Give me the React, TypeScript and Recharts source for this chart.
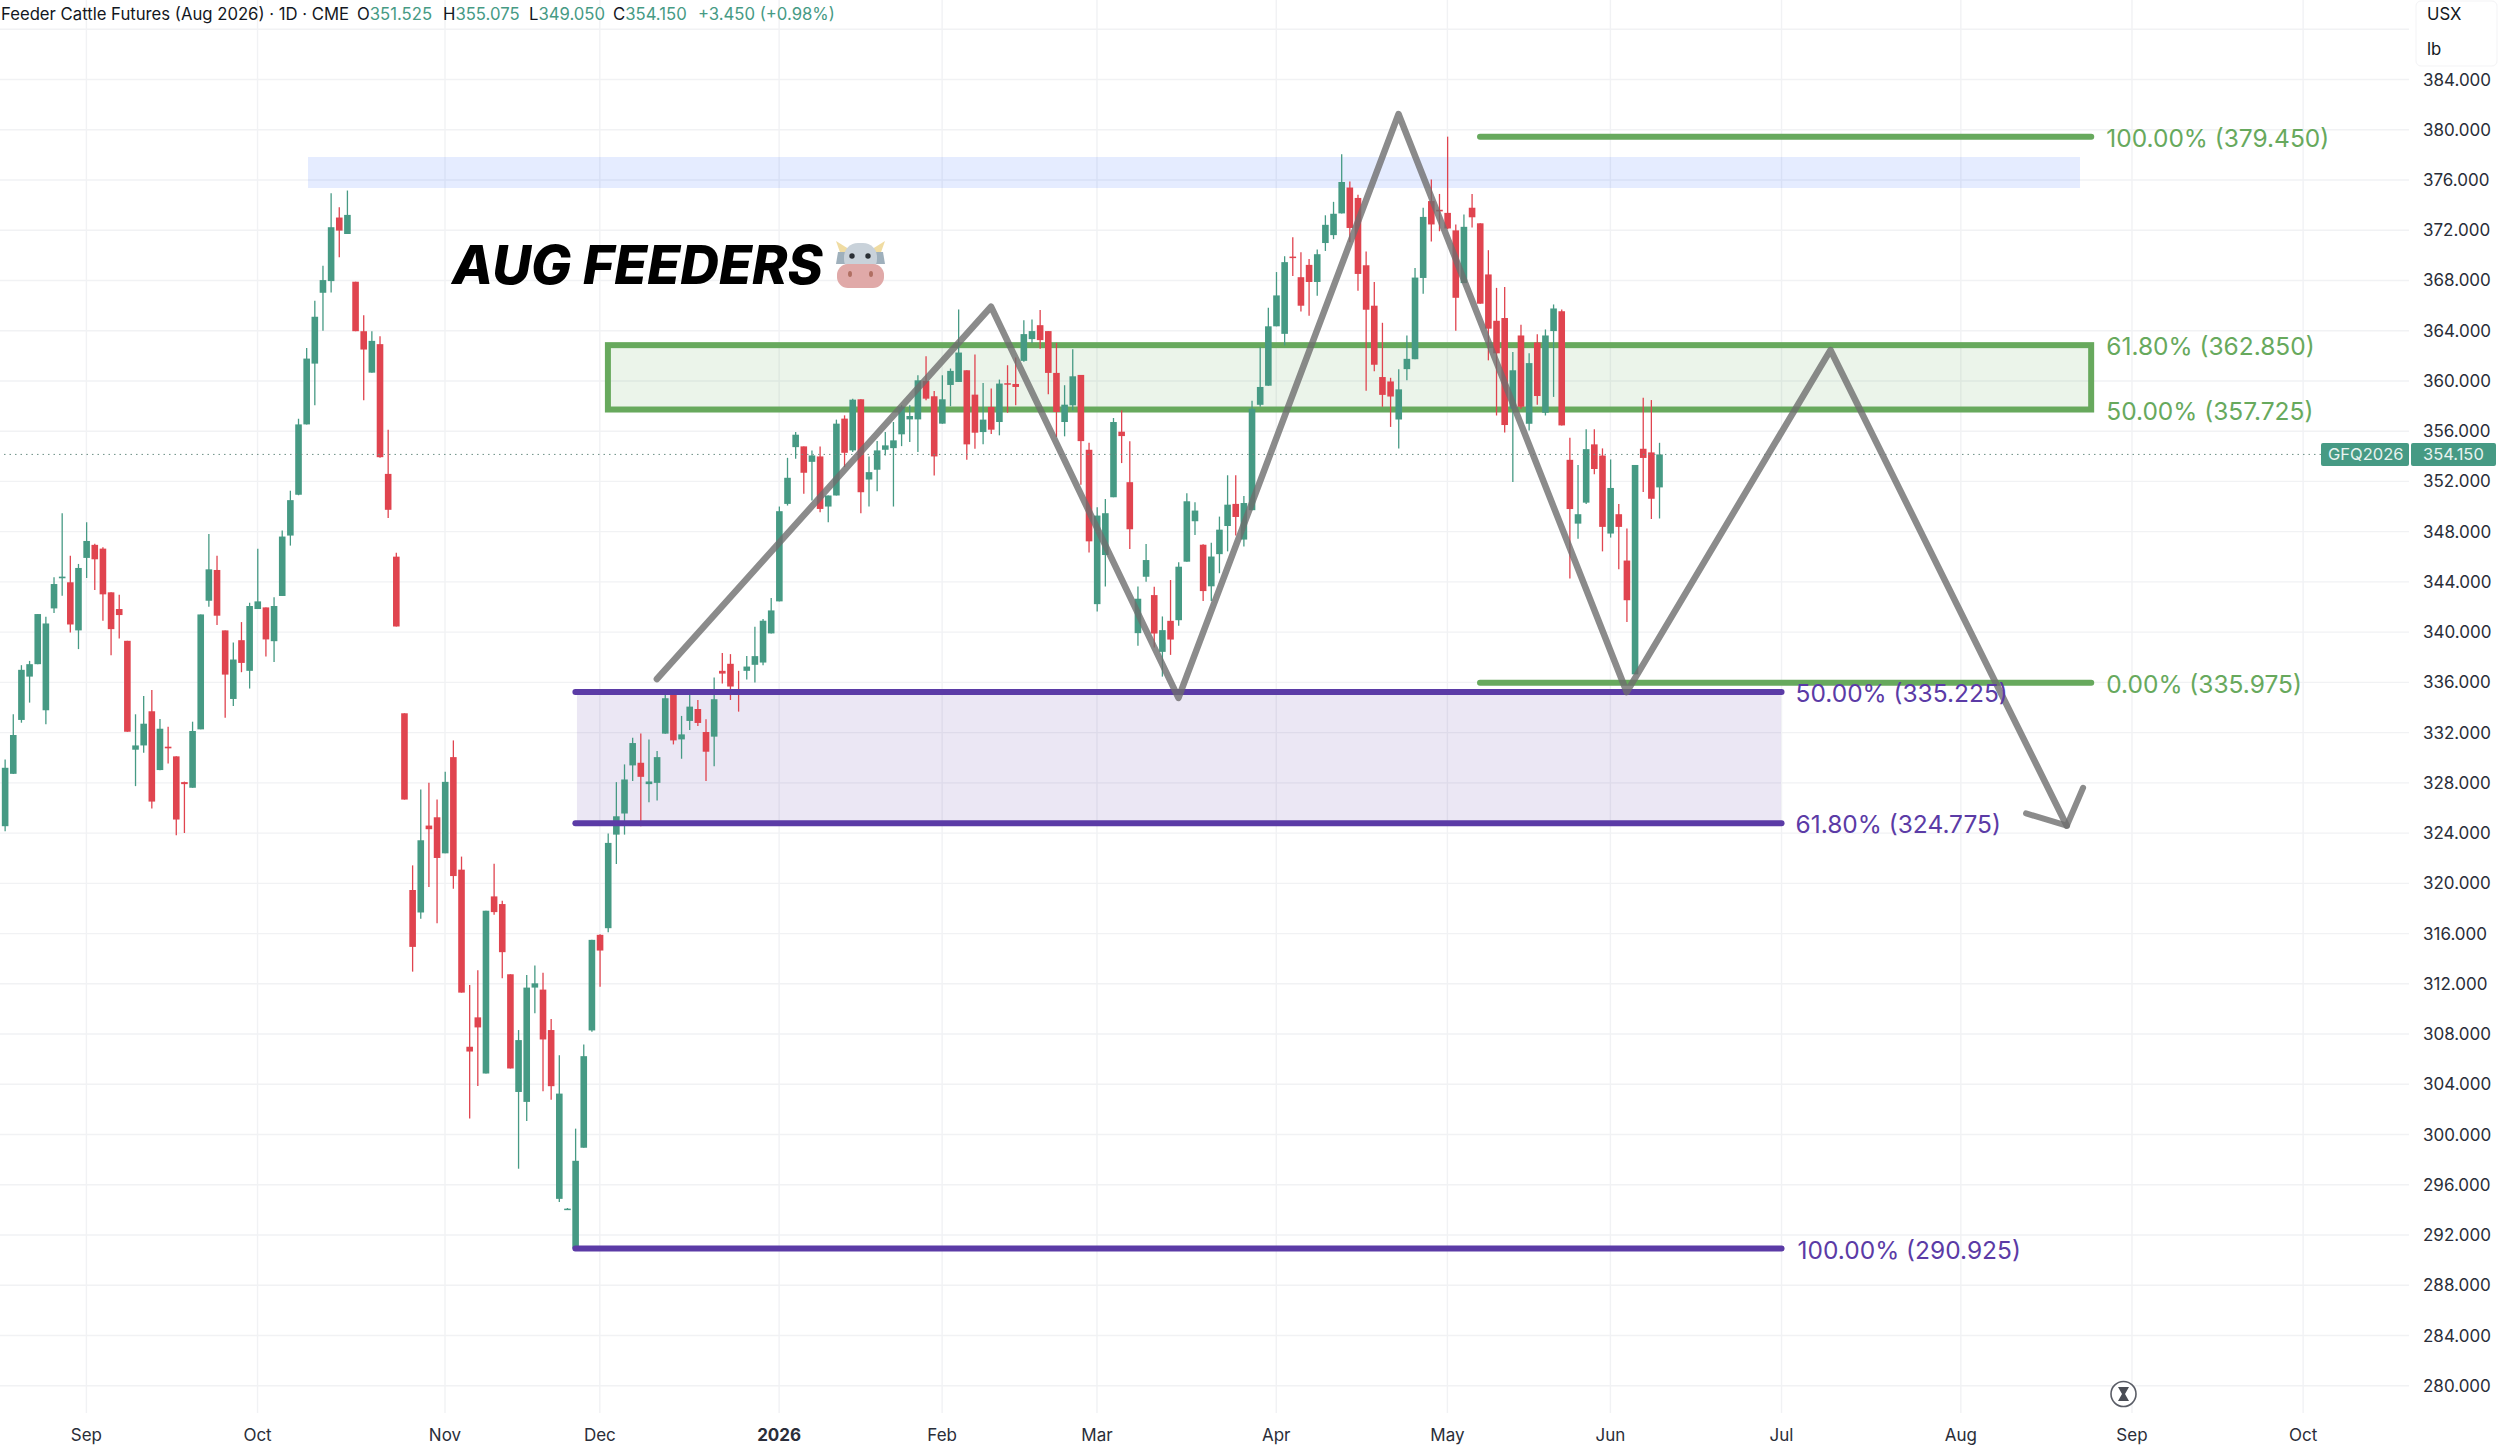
import {
  ComposedChart,
  Bar,
  Line,
  XAxis,
  YAxis,
  CartesianGrid,
  ReferenceArea,
  ReferenceLine,
  ReferenceDot,
} from 'recharts';

const FONT = 'Inter, "Noto Sans", sans-serif';

const UP = '#469a84';
const DOWN = '#e0444f';
const FIB_GREEN = '#67a95d';
const FIB_PURPLE = '#5b3ba6';
const WAVE = '#6e6e6e';

const SLOT_COUNT = 295;

const opens = [
  324.55, 328.72, 333.01, 336.46, 337.45, 333.78, 341.89, 344.29, 343.97, 340.14,
  345.91, 346.95, 346.65, 343.17, 341.84, 339.31, 330.64, 330.98, 333.7, 329.02,
  330.88, 330.11, 328.06, 327.61, 332.26, 342.5, 344.95, 340.14, 334.68, 339.36,
  336.92, 341.84, 341.97, 339.28, 342.88, 347.69, 350.94, 356.54, 361.38, 367.02,
  367.95, 373.01, 371.7, 367.9, 363.96, 360.66, 362.93, 352.6, 346.01, 333.54,
  319.47, 317.68, 324.6, 325.26, 322.39, 330.05, 321.09, 306.99, 309.33, 304.86,
  318.96, 318.35, 312.76, 303.39, 302.6, 311.7, 311.54, 308.32, 294.88, 294.0,
  290.93, 298.95, 308.29, 315.9, 316.43, 323.88, 325.56, 329.39, 329.6, 327.9,
  328.0, 331.92, 335.05, 331.46, 332.93, 333.88, 332.05, 331.68, 336.92, 337.48,
  335.4, 336.92, 337.4, 337.58, 339.9, 342.45, 350.21, 354.73, 354.79, 353.56,
  353.99, 350.0, 350.88, 357.0, 354.47, 358.54, 352.15, 352.93, 354.52, 354.65,
  355.75, 356.94, 356.94, 360.0, 358.78, 356.6, 359.68, 359.92, 360.85, 358.91,
  355.93, 357.93, 356.73, 359.82, 359.76, 361.6, 363.33, 364.44, 363.97, 360.64,
  356.73, 358.06, 360.48, 354.52, 342.23, 346.14, 350.74, 355.96, 351.94, 339.92,
  344.41, 342.95, 338.43, 340.9, 340.95, 345.61, 348.83, 346.96, 343.65, 346.21,
  348.45, 350.21, 347.37, 349.71, 358.1, 359.62, 364.35, 363.75, 369.9, 368.26,
  369.24, 367.88, 370.98, 371.61, 373.34, 375.4, 374.57, 369.21, 365.99, 360.31,
  359.96, 356.93, 360.94, 361.73, 368.2, 374.32, 373.63, 373.38, 371.99, 367.79,
  373.79, 372.55, 368.48, 364.79, 365.01, 357.79, 363.62, 356.59, 363.06, 357.47,
  363.97, 365.55, 353.72, 348.64, 350.31, 354.95, 354.06, 347.85, 349.39, 345.7,
  336.64, 354.6, 354.31, 351.525,
];

const highs = [
  329.87, 333.46, 337.37, 337.71, 341.44, 341.23, 344.37, 349.47, 346.09, 345.43,
  348.75, 347.03, 346.76, 343.17, 342.98, 339.31, 333.46, 334.92, 335.4, 333.09,
  332.47, 330.11, 328.1, 332.87, 341.41, 347.82, 346.09, 340.14, 339.18, 340.8,
  342.34, 346.63, 341.97, 342.77, 348.09, 351.26, 356.99, 362.63, 366.38, 369.18,
  374.95, 373.83, 375.16, 367.9, 365.24, 363.96, 363.56, 356.12, 346.33, 333.54,
  321.43, 327.47, 328.0, 326.67, 328.88, 331.38, 322.13, 311.91, 313.08, 317.82,
  321.57, 318.61, 312.76, 308.32, 312.71, 313.45, 312.89, 309.19, 306.32, 294.15,
  300.47, 307.17, 315.5, 315.95, 323.96, 328.06, 329.47, 331.6, 331.94, 331.46,
  330.53, 335.37, 335.37, 333.33, 335.19, 334.6, 333.06, 336.38, 338.33, 338.25,
  336.92, 338.11, 340.43, 341.04, 342.72, 350.0, 353.88, 355.93, 354.79, 354.47,
  354.79, 350.88, 356.92, 357.26, 358.59, 358.54, 353.99, 355.21, 355.93, 356.73,
  358.06, 358.06, 360.45, 361.97, 359.2, 360.45, 360.99, 365.69, 360.85, 362.1,
  359.84, 359.39, 360.11, 361.25, 361.86, 364.84, 364.9, 365.64, 363.97, 363.03,
  359.66, 362.53, 360.48, 355.08, 349.95, 350.61, 357.05, 357.66, 355.19, 343.64,
  347.02, 343.61, 341.25, 344.15, 345.56, 351.06, 350.34, 347.0, 347.12, 349.2,
  352.49, 352.49, 350.84, 358.42, 362.68, 365.83, 368.67, 369.93, 371.45, 370.25,
  369.71, 370.47, 373.19, 374.26, 378.05, 375.87, 374.83, 370.31, 367.88, 364.63,
  360.25, 360.94, 363.62, 368.99, 373.79, 376.03, 374.89, 379.45, 372.46, 373.25,
  374.89, 372.55, 370.41, 367.41, 367.47, 362.3, 364.48, 362.2, 363.72, 364.1,
  366.09, 365.68, 355.48, 353.31, 356.15, 356.15, 354.63, 353.75, 350.21, 348.25,
  353.31, 358.67, 358.48, 355.075,
];

const lows = [
  324.15, 328.7, 332.79, 334.39, 337.45, 332.66, 341.52, 342.9, 339.98, 338.65,
  344.31, 343.35, 340.91, 338.17, 339.5, 332.07, 327.74, 330.4, 325.96, 329.0,
  329.55, 323.83, 324.01, 327.61, 332.26, 342.02, 340.56, 333.19, 334.12, 336.81,
  335.51, 341.84, 338.06, 337.63, 342.88, 346.89, 350.9, 356.54, 358.06, 363.99,
  367.05, 369.84, 371.7, 363.96, 358.46, 360.66, 353.88, 349.08, 340.45, 326.67,
  312.97, 317.18, 319.7, 316.83, 322.39, 319.57, 311.3, 301.27, 303.87, 304.86,
  317.5, 312.44, 305.26, 297.28, 301.08, 309.65, 303.45, 302.78, 294.62, 294.0,
  290.93, 298.95, 308.18, 311.77, 316.11, 321.54, 323.88, 328.14, 324.55, 326.46,
  326.59, 331.92, 331.06, 329.92, 332.21, 332.53, 328.14, 329.33, 335.91, 334.6,
  333.67, 336.22, 335.99, 337.37, 339.9, 342.45, 350.08, 353.8, 351.01, 350.48,
  349.55, 348.75, 350.88, 353.14, 354.34, 349.47, 350.0, 351.22, 354.07, 350.0,
  354.81, 355.13, 354.34, 358.46, 352.47, 356.6, 357.98, 359.92, 353.72, 354.6,
  354.95, 355.77, 355.67, 357.47, 358.06, 361.52, 363.03, 362.56, 358.94, 355.53,
  355.59, 357.66, 351.73, 346.35, 341.65, 343.64, 350.74, 353.46, 346.62, 338.91,
  344.01, 338.77, 336.46, 338.19, 340.5, 345.61, 347.74, 342.48, 342.48, 344.69,
  346.43, 347.69, 346.81, 349.71, 357.94, 359.62, 364.35, 362.83, 368.36, 365.52,
  365.2, 366.78, 370.35, 371.29, 373.34, 371.04, 367.19, 359.21, 360.78, 357.94,
  356.34, 354.63, 360.06, 361.73, 366.94, 371.1, 371.92, 372.08, 364.0, 367.79,
  372.21, 366.15, 361.64, 357.25, 355.89, 351.95, 357.79, 356.05, 358.1, 357.25,
  358.73, 356.46, 344.28, 347.44, 350.21, 352.58, 346.43, 347.53, 345.01, 340.81,
  336.64, 351.16, 349.01, 349.05,
];

const closes = [
  329.2, 331.81, 337.0, 337.45, 341.44, 340.69, 343.83, 344.42, 340.61, 345.11,
  347.26, 345.8, 343.01, 340.24, 341.36, 332.07, 330.98, 332.71, 326.51, 332.31,
  330.75, 325.08, 327.9, 332.13, 341.41, 345.0, 341.31, 336.62, 337.82, 337.55,
  342.08, 342.45, 339.42, 342.08, 347.61, 350.51, 356.54, 361.78, 365.11, 368.03,
  372.24, 371.97, 373.22, 363.96, 362.5, 363.19, 353.93, 349.74, 340.45, 326.67,
  314.94, 323.43, 324.31, 322.02, 328.08, 320.58, 311.3, 306.61, 308.53, 317.82,
  317.71, 314.52, 305.26, 307.52, 311.7, 312.04, 307.57, 303.85, 303.26, 294.1,
  297.91, 306.24, 315.5, 314.65, 323.22, 325.34, 328.27, 331.17, 328.48, 328.11,
  330.05, 334.74, 331.38, 331.86, 334.07, 332.77, 330.48, 334.66, 336.7, 335.67,
  335.13, 337.26, 338.09, 340.91, 341.73, 349.63, 352.29, 355.72, 352.69, 354.07,
  349.81, 350.88, 356.6, 354.28, 358.51, 351.14, 352.74, 354.47, 354.87, 355.27,
  357.93, 357.21, 360.05, 358.59, 353.99, 358.54, 360.8, 362.26, 354.95, 355.88,
  356.92, 356.12, 359.79, 359.71, 359.52, 363.73, 363.97, 363.25, 360.64, 357.53,
  358.11, 360.37, 355.21, 347.23, 349.28, 349.47, 356.73, 355.61, 348.19, 342.66,
  345.74, 339.89, 340.16, 339.41, 345.21, 350.42, 349.68, 343.27, 346.02, 348.16,
  350.15, 349.17, 350.28, 357.79, 359.52, 364.35, 366.81, 369.46, 369.78, 365.99,
  367.88, 370.09, 372.43, 373.31, 375.84, 372.18, 368.52, 365.67, 361.29, 358.89,
  358.76, 359.33, 361.76, 368.23, 373.06, 372.46, 373.5, 372.14, 366.62, 372.27,
  373.03, 366.15, 364.16, 362.2, 356.49, 360.85, 357.94, 361.42, 358.8, 363.62,
  365.77, 356.46, 349.8, 349.39, 354.57, 352.99, 348.38, 351.48, 348.38, 342.54,
  353.31, 353.87, 350.62, 354.15,
];

// month labels sit on the first trading day of each month
const monthSlots = [10, 31, 54, 73, 95, 115, 134, 156, 177, 197, 218, 240, 261, 282];
const monthLabels = ['Sep', 'Oct', 'Nov', 'Dec', '2026', 'Feb', 'Mar', 'Apr', 'May', 'Jun', 'Jul', 'Aug', 'Sep', 'Oct'];

const priceTicks = [
  280, 284, 288, 292, 296, 300, 304, 308, 312, 316, 320, 324, 328, 332, 336, 340, 344, 348,
  352, 356, 360, 364, 368, 372, 376, 380, 384, 388,
];

const waveSlots = [80, 121, 144, 171, 199, 224, 253];
const waveValues = [336.27, 365.91, 334.76, 381.25, 335.23, 362.46, 324.59];

const arrowSlots = [248, 253, 255];
const arrowValues = [325.57, 324.59, 327.61];

const LAST_PRICE = 354.15;

const rows = Array.from({ length: SLOT_COUNT }, (_, slot) => {
  const waveIdx = waveSlots.indexOf(slot);
  const arrowIdx = arrowSlots.indexOf(slot);
  const hasBar = slot < opens.length;
  return {
    slot,
    open: hasBar ? opens[slot] : null,
    close: hasBar ? closes[slot] : null,
    high: hasBar ? highs[slot] : null,
    low: hasBar ? lows[slot] : null,
    range: hasBar ? [lows[slot], highs[slot]] : null,
    wave: waveIdx >= 0 ? waveValues[waveIdx] : null,
    arrow: arrowIdx >= 0 ? arrowValues[arrowIdx] : null,
  };
});

function Candle(props: any) {
  const { x, y, width, height, payload } = props;
  if (payload.open == null) return null;
  const { open, close, high, low } = payload;
  const color = close >= open ? UP : DOWN;
  const perUnit = Math.abs(height) / (high - low);
  const bodyTop = y + (high - Math.max(open, close)) * perUnit;
  const bodyHeight = Math.max(Math.abs(open - close) * perUnit, 1.5);
  const cx = x + width / 2;
  return (
    <g>
      <line x1={cx} x2={cx} y1={y} y2={y + Math.abs(height)} stroke={color} strokeWidth={1.3} />
      <rect x={x} y={bodyTop} width={width} height={bodyHeight} fill={color} />
    </g>
  );
}

// zones were drawn by hand, so their edges fall between bars
function shiftedArea(dx: number, dw: number) {
  return ({ x, y, width, height, fill, fillOpacity, stroke, strokeWidth }: any) => (
    <rect
      x={x + dx}
      y={y}
      width={width + dw}
      height={height}
      fill={fill}
      fillOpacity={fillOpacity}
      stroke={stroke}
      strokeWidth={strokeWidth}
    />
  );
}

function PriceTick({ x, y, payload }: any) {
  if (payload.value === 388) return null;
  return (
    <text x={x + 6} y={y} dy={6} fontSize={17} fill="#2a2e39" fontFamily={FONT}>
      {payload.value.toFixed(3)}
    </text>
  );
}

function MonthTick({ x, y, payload }: any) {
  const label = monthLabels[monthSlots.indexOf(payload.value)];
  return (
    <text
      x={x}
      y={y}
      dy={20}
      textAnchor="middle"
      fontSize={17}
      fontWeight={label === '2026' ? 700 : 400}
      fill="#2a2e39"
      fontFamily={FONT}
    >
      {label}
    </text>
  );
}

function fibLabel(text: string, color: string, dx: number) {
  return ({ viewBox }: any) => (
    <text x={viewBox.x + dx} y={viewBox.y} dy={10} fontSize={24.5} fill={color} fontFamily={FONT}>
      {text}
    </text>
  );
}

function LastPriceTag({ viewBox }: any) {
  const right = viewBox.x + viewBox.width;
  const cy = viewBox.y;
  return (
    <g fontFamily={FONT} fontSize={16.5} fill="#e9f3f0">
      <rect x={right - 88} y={cy - 11.5} width={88} height={23} rx={2} fill={UP} />
      <rect x={right + 2} y={cy - 11.5} width={85} height={23} rx={2} fill={UP} />
      <text x={right - 81} y={cy} dy={6}>GFQ2026</text>
      <text x={right + 14} y={cy} dy={6}>354.150</text>
    </g>
  );
}

function HeaderStat({ x, label, value }: { x: number; label: string; value: string }) {
  return (
    <div style={{ position: 'absolute', left: x, top: 4, whiteSpace: 'nowrap' }}>
      <span style={{ color: '#131722' }}>{label}</span>
      <span style={{ color: UP }}>{value}</span>
    </div>
  );
}

function Overlay() {
  return (
    <svg width={2500} height={1446} style={{ position: 'absolute', left: 0, top: 0, pointerEvents: 'none' }}>
      {/* cow emoji */}
      <path d="M842 258 L836 241 L852 251 Z" fill="#f0dca2" />
      <path d="M879 258 L885 241 L869 251 Z" fill="#f0dca2" />
      <path d="M838 252 L847 252 L847 264 L836 264 Z" fill="#9fb0bc" />
      <path d="M883 252 L874 252 L874 264 L885 264 Z" fill="#9fb0bc" />
      <rect x={844} y={243} width={33} height={30} rx={14} fill="#c9d2da" />
      <circle cx={852} cy={256} r={2.7} fill="#2a2f35" />
      <circle cx={868} cy={256} r={2.7} fill="#2a2f35" />
      <rect x={837} y={264} width={47} height={24} rx={11} fill="#e0a9a8" />
      <ellipse cx={850} cy={274} rx={2} ry={3} fill="#b06f62" />
      <ellipse cx={871} cy={274} rx={2} ry={3} fill="#b06f62" />
      {/* replay hourglass */}
      <circle cx={2123.5} cy={1394} r={12.5} fill="#fff" stroke="#5a5d66" strokeWidth={1.6} />
      <path d="M2118 1387 H2129 L2125 1394 L2129 1401 H2118 L2122 1394 Z" fill="#4a4d55" />
      {/* currency badge */}
      <rect x={2416} y={1} width={81} height={65} rx={5} fill="#fff" stroke="#f3f3f5" />
    </svg>
  );
}

export default function App() {
  return (
    <div style={{ position: 'absolute', left: 0, top: 0, width: 2500, height: 1446, background: '#fff', overflow: 'hidden' }}>
      <ComposedChart
        width={2500}
        height={1446}
        data={rows}
        margin={{ top: 0, right: 0, bottom: 0, left: 0 }}
        barCategoryGap={0}
      >
        <CartesianGrid stroke="#f1f2f4" strokeWidth={1.4} syncWithTicks />
        <XAxis
          dataKey="slot"
          ticks={monthSlots}
          interval={0}
          height={33}
          padding={{ left: 0.83, right: 4 }}
          axisLine={false}
          tickLine={false}
          tick={<MonthTick />}
        />
        <YAxis
          orientation="right"
          width={91}
          domain={[277.83, 390.33]}
          ticks={priceTicks}
          interval={0}
          allowDataOverflow
          axisLine={false}
          tickLine={false}
          tick={<PriceTick />}
        />

        <ReferenceArea
          x1={38}
          x2={254}
          y1={377.83}
          y2={375.36}
          fill="#2962ff"
          fillOpacity={0.12}
          stroke="none"
          shape={shiftedArea(-2.5, 3.5)}
        />
        <ReferenceArea
          x1={71}
          x2={217}
          y1={335.225}
          y2={324.775}
          fill={FIB_PURPLE}
          fillOpacity={0.12}
          stroke="none"
          shape={shiftedArea(-2.5, 6)}
        />
        <ReferenceArea
          x1={74}
          x2={255}
          y1={362.85}
          y2={357.725}
          fill={FIB_GREEN}
          fillOpacity={0.13}
          stroke={FIB_GREEN}
          strokeWidth={6}
          shape={shiftedArea(4, 0)}
        />

        <ReferenceLine
          y={LAST_PRICE}
          stroke="#6c8f85"
          strokeWidth={1}
          strokeDasharray="1.5 4"
          label={<LastPriceTag />}
        />

        <Bar dataKey="range" barSize={6.6} shape={<Candle />} isAnimationActive={false} />

        <ReferenceLine segment={[{ x: 181, y: 379.45 }, { x: 256, y: 379.45 }]} stroke={FIB_GREEN} strokeWidth={6} strokeLinecap="round" />
        <ReferenceLine segment={[{ x: 181, y: 335.975 }, { x: 256, y: 335.975 }]} stroke={FIB_GREEN} strokeWidth={6} strokeLinecap="round" />
        <ReferenceLine segment={[{ x: 70, y: 335.225 }, { x: 218, y: 335.225 }]} stroke={FIB_PURPLE} strokeWidth={6} strokeLinecap="round" />
        <ReferenceLine segment={[{ x: 70, y: 324.775 }, { x: 218, y: 324.775 }]} stroke={FIB_PURPLE} strokeWidth={6} strokeLinecap="round" />
        <ReferenceLine segment={[{ x: 70, y: 290.925 }, { x: 218, y: 290.925 }]} stroke={FIB_PURPLE} strokeWidth={6} strokeLinecap="round" />

        <Line
          dataKey="wave"
          connectNulls
          dot={false}
          stroke={WAVE}
          strokeOpacity={0.8}
          strokeWidth={6.5}
          strokeLinecap="round"
          strokeLinejoin="round"
          isAnimationActive={false}
        />
        <Line
          dataKey="arrow"
          connectNulls
          dot={false}
          stroke={WAVE}
          strokeOpacity={0.8}
          strokeWidth={6}
          strokeLinecap="round"
          strokeLinejoin="round"
          isAnimationActive={false}
        />

        <ReferenceDot x={256} y={379.45} r={0} fill="none" stroke="none" label={fibLabel('100.00% (379.450)', FIB_GREEN, 15)} />
        <ReferenceDot x={256} y={362.85} r={0} fill="none" stroke="none" label={fibLabel('61.80% (362.850)', FIB_GREEN, 15)} />
        <ReferenceDot x={256} y={357.725} r={0} fill="none" stroke="none" label={fibLabel('50.00% (357.725)', FIB_GREEN, 15)} />
        <ReferenceDot x={256} y={335.975} r={0} fill="none" stroke="none" label={fibLabel('0.00% (335.975)', FIB_GREEN, 15)} />
        <ReferenceDot x={218} y={335.225} r={0} fill="none" stroke="none" label={fibLabel('50.00% (335.225)', FIB_PURPLE, 14)} />
        <ReferenceDot x={218} y={324.775} r={0} fill="none" stroke="none" label={fibLabel('61.80% (324.775)', FIB_PURPLE, 14)} />
        <ReferenceDot x={218} y={290.925} r={0} fill="none" stroke="none" label={fibLabel('100.00% (290.925)', FIB_PURPLE, 16)} />
      </ComposedChart>

      <Overlay />

      <div style={{ position: 'absolute', inset: 0, fontFamily: FONT, fontSize: 16.7, lineHeight: '20px' }}>
        <div style={{ position: 'absolute', left: 1, top: 4, color: '#131722', whiteSpace: 'nowrap' }}>
          Feeder Cattle Futures (Aug 2026) · 1D · CME
        </div>
        <HeaderStat x={357} label="O" value="351.525" />
        <HeaderStat x={443} label="H" value="355.075" />
        <HeaderStat x={529} label="L" value="349.050" />
        <HeaderStat x={613} label="C" value="354.150" />
        <HeaderStat x={698} label="" value="+3.450 (+0.98%)" />
        <div style={{ position: 'absolute', left: 2427, top: 4, color: '#131722' }}>USX</div>
        <div style={{ position: 'absolute', left: 2427, top: 39, color: '#131722' }}>lb</div>
        <div
          style={{
            position: 'absolute',
            left: 452,
            top: 232,
            fontSize: 53.5,
            lineHeight: '66px',
            fontWeight: 800,
            fontStyle: 'italic',
            color: '#000',
            whiteSpace: 'nowrap',
          }}
        >
          AUG FEEDERS
        </div>
      </div>
    </div>
  );
}
